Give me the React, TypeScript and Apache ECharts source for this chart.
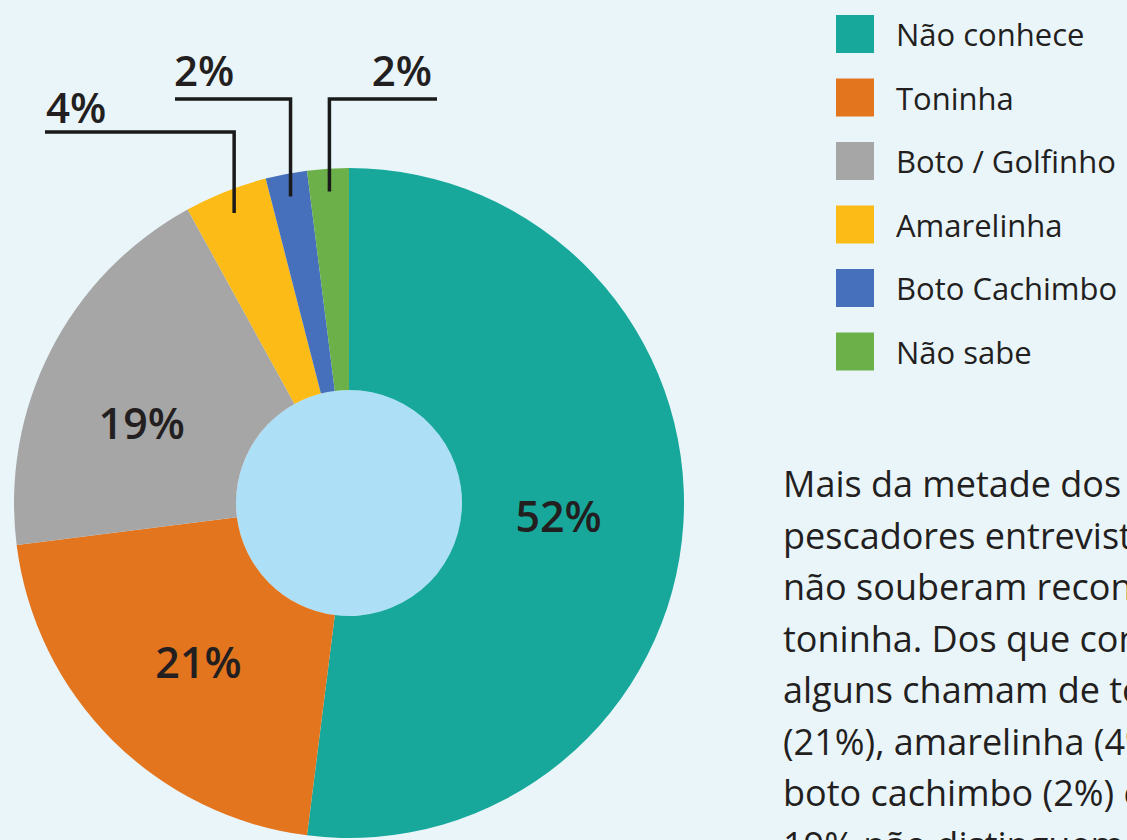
import React, { useEffect, useRef } from 'react';
import * as echarts from 'echarts';

// ---- data ----
const categories = ['Não conhece', 'Toninha', 'Boto / Golfinho', 'Amarelinha', 'Boto Cachimbo', 'Não sabe'];
const values = [52, 21, 19, 4, 2, 2];
const colors = ['#17a89b', '#e3751e', '#a6a6a6', '#fcbb16', '#4670bb', '#6cb04a'];
const paragraphLines = [
  'Mais da metade dos',
  'pescadores entrevistados',
  'não souberam reconhecer a',
  'toninha. Dos que conhecem,',
  'alguns chamam de toninha',
  '(21%), amarelinha (4%),',
  'boto cachimbo (2%) e',
  '19% não distinguem',
];

// ---- layout / style ----
const CENTER = [349, 503];
const R_IN = 113;
const R_OUT = 335;
const LINE_START_R = 312;
const FONT = "'Open Sans', 'Noto Sans', sans-serif";
const TEXT_COLOR = '#231f20';

const outsideLabelCfg: Record<number, { lineY: number; endX: number; textX: number; textY: number; align: string }> = {
  3: { lineY: 132, endX: 45, textX: 46, textY: 106, align: 'left' },
  4: { lineY: 99, endX: 175, textX: 174, textY: 69, align: 'left' },
  5: { lineY: 99, endX: 437, textX: 432, textY: 69, align: 'right' },
};
const insideNudge: Record<number, [number, number]> = {
  0: [-17, -2],
  1: [10, -2],
  2: [-5, 23],
};

function midPoint(i: number, r: number): [number, number] {
  const total = values.reduce((a, b) => a + b, 0);
  let before = 0;
  for (let k = 0; k < i; k++) before += values[k];
  const frac = (before + values[i] / 2) / total;
  const th = frac * Math.PI * 2;
  return [CENTER[0] + r * Math.sin(th), CENTER[1] - r * Math.cos(th)];
}

const labelBase = {
  formatter: (p: any) => p.value + '%',
  color: TEXT_COLOR,
  fontFamily: FONT,
  fontWeight: 600,
};

export default function App() {
  const ref = useRef<HTMLDivElement>(null);

  useEffect(() => {
    document.body.style.margin = '0';
    if (!ref.current) return;
    const chart = echarts.init(ref.current, undefined, { renderer: 'svg' });

    const option: any = {
      animation: false,
      backgroundColor: '#eaf5fa',
      title: {
        text: paragraphLines.join('\n'),
        left: 783,
        top: 458,
        padding: 0,
        textStyle: {
          fontFamily: FONT,
          fontSize: 36,
          fontWeight: 400,
          color: TEXT_COLOR,
          lineHeight: 51.5,
        },
      },
      legend: {
        data: categories.map((name, i) => ({ name, itemStyle: { color: colors[i] } })),
        orient: 'vertical',
        left: 836,
        top: 15,
        padding: 0,
        itemWidth: 38,
        itemHeight: 38,
        itemGap: 25.5,
        icon: 'rect',
        selectedMode: false,
        textStyle: {
          fontFamily: FONT,
          fontSize: 31,
          color: TEXT_COLOR,
          lineHeight: 38,
          padding: [0, 0, 0, 17],
        },
      },
      series: [
        {
          type: 'pie',
          center: CENTER,
          radius: [0, R_IN],
          silent: true,
          z: 1,
          label: { show: false },
          labelLine: { show: false },
          itemStyle: { borderWidth: 0 },
          data: [{ value: 1, name: '', itemStyle: { color: '#ade0f7' } }],
        },
        {
          // coloured ring with inside labels
          type: 'pie',
          center: CENTER,
          radius: [R_IN, R_OUT],
          startAngle: 90,
          clockwise: true,
          avoidLabelOverlap: false,
          silent: true,
          z: 2,
          itemStyle: { borderWidth: 0 },
          label: { ...labelBase, position: 'inside', fontSize: 43 },
          labelLine: { show: false },
          labelLayout: (params: any) => {
            const n = insideNudge[params.dataIndex];
            if (n && params.labelRect) {
              const r = params.labelRect;
              return {
                x: r.x + r.width / 2 + n[0],
                y: r.y + r.height / 2 + n[1],
                align: 'center',
                verticalAlign: 'middle',
              };
            }
            return {};
          },
          data: categories.map((name, i) => ({
            name,
            value: values[i],
            itemStyle: { color: colors[i] },
            label: { show: i < 3 },
          })),
        },
        {
          // transparent overlay carrying the leader-line labels of the small slices
          type: 'pie',
          center: CENTER,
          radius: [R_IN, R_OUT],
          startAngle: 90,
          clockwise: true,
          avoidLabelOverlap: false,
          silent: true,
          z: 3,
          itemStyle: { borderWidth: 0, color: 'rgba(0,0,0,0)' },
          label: { ...labelBase, position: 'outside', fontSize: 42 },
          labelLine: {
            show: true,
            length: 10,
            length2: 10,
            smooth: false,
            lineStyle: { color: '#1a1a1a', width: 3.5, cap: 'butt', join: 'miter' },
          },
          labelLayout: (params: any) => {
            const i = params.dataIndex;
            const cfg = outsideLabelCfg[i];
            if (!cfg) return {};
            const [sx, sy] = midPoint(i, LINE_START_R);
            return {
              x: cfg.textX,
              y: cfg.textY,
              align: cfg.align,
              verticalAlign: 'middle',
              labelLinePoints: [
                [sx, sy],
                [sx, cfg.lineY],
                [cfg.endX, cfg.lineY],
              ],
            };
          },
          data: categories.map((name, i) => ({
            name,
            value: values[i],
            itemStyle: { color: 'rgba(0,0,0,0)' },
            label: { show: i >= 3 },
            labelLine: { show: i >= 3 },
          })),
        },
      ],
    };

    chart.setOption(option);
    return () => {
      chart.dispose();
    };
  }, []);

  return <div ref={ref} style={{ width: 1127, height: 840, overflow: 'hidden' }} />;
}
